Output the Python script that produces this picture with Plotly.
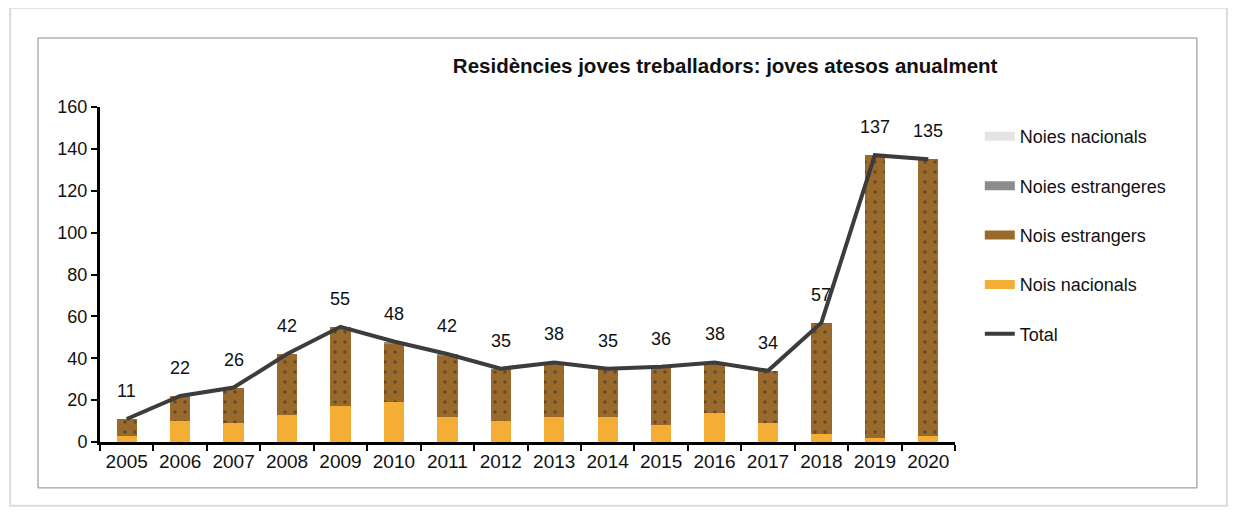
import plotly.graph_objects as go

years = [str(y) for y in range(2005, 2021)]
nois_nacionals = [3, 10, 9, 13, 17, 19, 12, 10, 12, 12, 8, 14, 9, 4, 2, 3]
nois_estrangers = [8, 12, 17, 29, 38, 28, 29, 25, 26, 23, 28, 24, 25, 53, 135, 132]
noies_estrangeres = [0, 0, 0, 0, 0, 1, 1, 0, 0, 0, 0, 0, 0, 0, 0, 0]
noies_nacionals = [0, 0, 0, 0, 0, 0, 0, 0, 0, 0, 0, 0, 0, 0, 0, 0]
total = [11, 22, 26, 42, 55, 48, 42, 35, 38, 35, 36, 38, 34, 57, 137, 135]

C_NN = "#F5AE35"
C_NE = "#9A6A2C"
C_FE = "#8C8C8C"
C_FN = "#E4E4E4"
C_TOT = "#3C3C3C"
FONT = "Liberation Sans, Arial, sans-serif"

fig = go.Figure()

bar_kw = dict(x=years, showlegend=False, marker_line_width=0)
fig.add_trace(go.Bar(y=nois_nacionals, name="Nois nacionals", marker_color=C_NN, **bar_kw))
fig.add_trace(go.Bar(y=nois_estrangers, name="Nois estrangers", marker=dict(
    color=C_NE, line_width=0,
    pattern=dict(shape=".", fgcolor="#2a2a2a", bgcolor=C_NE, size=10, solidity=0.1)),
    x=years, showlegend=False))
fig.add_trace(go.Bar(y=noies_estrangeres, name="Noies estrangeres", marker_color=C_FE, **bar_kw))
fig.add_trace(go.Bar(y=noies_nacionals, name="Noies nacionals", marker_color=C_FN, **bar_kw))

fig.add_trace(go.Scatter(x=years, y=total, mode="lines", name="Total",
                         line=dict(color=C_TOT, width=4), showlegend=False))

# legend entries (wide keys)
legend_items = [("Noies nacionals", C_FN, 9), ("Noies estrangeres", C_FE, 9),
                ("Nois estrangers", C_NE, 9), ("Nois nacionals", C_NN, 9),
                ("Total", C_TOT, 4)]
for i, (name, col, w) in enumerate(legend_items):
    fig.add_trace(go.Scatter(x=[None], y=[None], mode="lines", name=name,
                             line=dict(color=col, width=w), legendgroup=name,
                             legendrank=i + 1))

# value labels above the total line
for i, t in enumerate(total):
    fig.add_annotation(x=i, y=t, text=str(t), showarrow=False, yshift=28,
                       font=dict(size=18, color="#111111", family=FONT))

# chart frames
fig.add_shape(type="rect", xref="paper", yref="paper", x0=-0.105, x1=1.318,
              y0=-0.19, y1=1.296, line=dict(color="#dcdcdc", width=2))
fig.add_shape(type="rect", xref="paper", yref="paper", x0=-0.0725, x1=1.283,
              y0=-0.137, y1=1.206, line=dict(color="#8a8a8a", width=1))

fig.update_layout(
    barmode="stack",
    bargap=0.62,
    width=1228, height=504,
    margin=dict(l=92, r=281, t=99, b=70),
    paper_bgcolor="white", plot_bgcolor="white",
    font=dict(family=FONT, size=18, color="#111111"),
    title=dict(text="<b>Residències joves treballadors: joves atesos anualment</b>",
               x=0.584, xanchor="center", y=0.885, yanchor="middle",
               font=dict(size=20.5, family=FONT, color="#111111")),
    legend=dict(x=1.029, xanchor="left", y=0.967, yanchor="top",
                font=dict(size=18, family=FONT), tracegroupgap=23,
                itemwidth=30, bgcolor="rgba(0,0,0,0)"),
    xaxis=dict(type="category", range=[-0.5, 15.5], showline=True, linecolor="black",
               linewidth=3, ticks="outside", tickson="boundaries", ticklen=6,
               tickwidth=2, tickcolor="black", showgrid=False,
               tickfont=dict(size=19, family=FONT)),
    yaxis=dict(range=[0, 160], dtick=20, showline=True, linecolor="black",
               linewidth=3, ticks="outside", ticklen=6, tickwidth=2,
               tickcolor="black", showgrid=False, zeroline=False,
               tickfont=dict(size=18, family=FONT)),
)

fig.write_html("out.html")
